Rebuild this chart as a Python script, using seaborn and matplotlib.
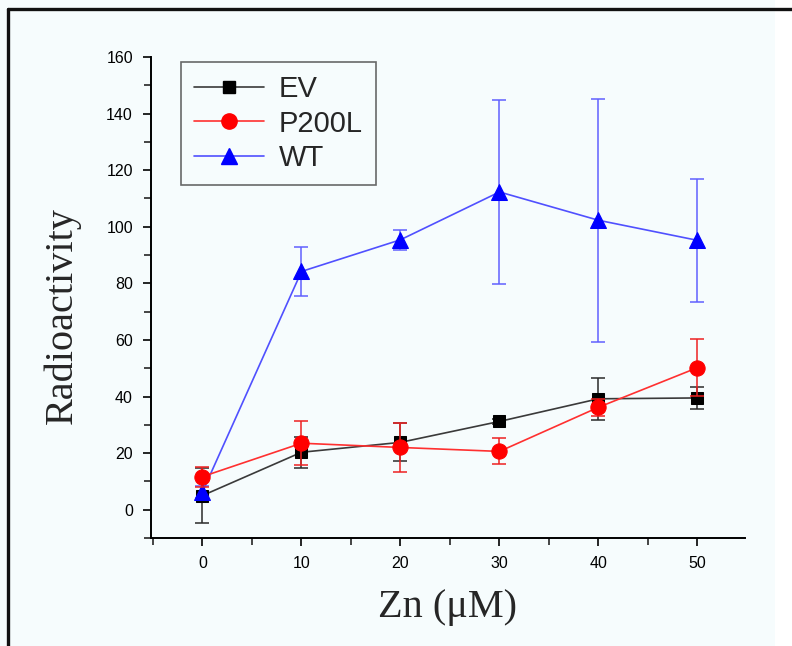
import numpy as np
import pandas as pd
import matplotlib
matplotlib.use("Agg")
import matplotlib.pyplot as plt
import seaborn as sns
from matplotlib.lines import Line2D
from matplotlib.patches import Rectangle
from matplotlib.ticker import MultipleLocator

# ---- data ----
zn = [0, 10, 20, 30, 40, 50]
ev_mean = [5.0, 20.3, 23.8, 31.2, 39.2, 39.5]
ev_err = [9.6, 5.5, 6.7, 1.0, 7.5, 3.9]
p200l_mean = [11.7, 23.5, 22.0, 20.6, 36.2, 50.2]
p200l_err = [3.5, 7.8, 8.6, 4.6, 3.0, 10.0]
wt_mean = [6.3, 84.2, 95.4, 112.3, 102.3, 95.2]
wt_err = [2.0, 8.5, 3.6, 32.5, 43.0, 21.8]
series = ["EV", "P200L", "WT"]

df = pd.DataFrame({
    "Zn": zn * 3,
    "value": ev_mean + p200l_mean + wt_mean,
    "err": ev_err + p200l_err + wt_err,
    "group": ["EV"] * 6 + ["P200L"] * 6 + ["WT"] * 6,
})

sns.set_theme(style="ticks")
plt.rcParams["font.family"] = ["Liberation Sans", "DejaVu Sans"]

bg = "#f6fcfd"
fig = plt.figure(figsize=(7.92, 6.46), dpi=100, facecolor=bg)
fig.patches.append(Rectangle((775 / 792, 0), 1, 1, transform=fig.transFigure,
                             facecolor="white", edgecolor="none", zorder=0))
ax = fig.add_axes([151 / 792, 1 - 538 / 646, 594 / 792, 481 / 646])
ax.set_facecolor("none")

styles = {
    "EV": dict(line="#3a3a3a", mk="black", ecol="#2a2a2a", marker="s", ms=9, z=3),
    "P200L": dict(line="#ff3030", mk="#ff0000", ecol="#ee2222", marker="o", ms=11, z=5),
    "WT": dict(line="#5050ff", mk="#0000ff", ecol="#6060ff", marker="^", ms=11, z=4),
}

handles = []
for g in series:
    sub = df[df["group"] == g]
    st = styles[g]
    ax.errorbar(sub["Zn"], sub["value"], yerr=sub["err"], fmt="none",
                ecolor=st["ecol"], elinewidth=1.1, capsize=5, capthick=1.1,
                zorder=st["z"])
    sns.lineplot(data=sub, x="Zn", y="value", ax=ax, color=st["line"],
                 linewidth=1.2, marker=st["marker"], markersize=st["ms"],
                 markerfacecolor=st["mk"], markeredgecolor=st["mk"],
                 errorbar=None, zorder=st["z"] + 0.5, legend=False)
    handles.append(Line2D([0], [0], color=st["line"], linewidth=1.2,
                          marker=st["marker"], markersize=st["ms"],
                          markerfacecolor=st["mk"], markeredgecolor=st["mk"]))

ax.set_xlim(-5.2, 54.8)
ax.set_ylim(-10, 160)
ax.xaxis.set_major_locator(MultipleLocator(10))
ax.xaxis.set_minor_locator(MultipleLocator(5))
ax.yaxis.set_major_locator(MultipleLocator(20))
ax.yaxis.set_minor_locator(MultipleLocator(10))
ax.set_xticks([0, 10, 20, 30, 40, 50])
ax.set_yticks(list(range(0, 161, 20)))

for s in ["top", "right"]:
    ax.spines[s].set_visible(False)
for s in ["left", "bottom"]:
    ax.spines[s].set_linewidth(1.4)
    ax.spines[s].set_color("black")

ax.tick_params(axis="both", which="major", direction="out", length=6, width=1.2,
               labelsize=11.5, colors="black", pad=7)
ax.tick_params(axis="both", which="minor", direction="out", length=5, width=1.2)

ax.set_xlabel("Zn (μM)", family=["Liberation Serif", "DejaVu Serif"], fontsize=29,
              labelpad=13)
ax.set_ylabel("Radioactivity", family=["Liberation Serif", "DejaVu Serif"],
              fontsize=29)
ax.yaxis.set_label_coords(-0.118, 0.463)

leg = ax.legend(handles, series, loc="upper left",
                bbox_to_anchor=(30 / 594, 476 / 481), fontsize=21, frameon=True,
                fancybox=False, edgecolor="#444444", handlelength=2.4,
                handletextpad=0.5, labelspacing=0.22, borderpad=0.45,
                borderaxespad=0)
leg.get_frame().set_linewidth(1.2)
leg.get_frame().set_facecolor("none")

# outer frame (left and top lines)
fig.add_artist(Line2D([8 / 792, 8 / 792], [0, 1 - 9 / 646], transform=fig.transFigure,
                      color="#111111", linewidth=2.4))
fig.add_artist(Line2D([8 / 792, 1], [1 - 9 / 646, 1 - 9 / 646], transform=fig.transFigure,
                      color="#111111", linewidth=2.4))

fig.savefig("out.png", dpi=100, facecolor=bg)
